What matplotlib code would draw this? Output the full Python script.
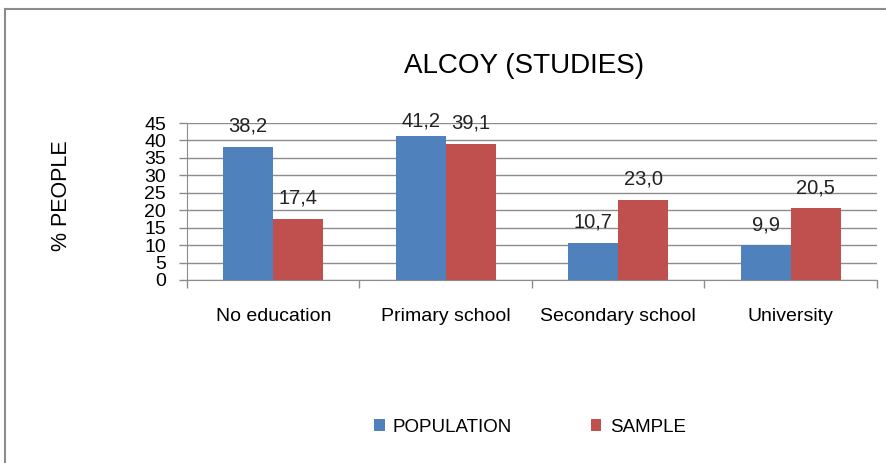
import numpy as np
import matplotlib.pyplot as plt
from matplotlib.lines import Line2D

categories = ["No education", "Primary school", "Secondary school", "University"]
population = [38.2, 41.2, 10.7, 9.9]
sample = [17.4, 39.1, 23.0, 20.5]
series_names = ["POPULATION", "SAMPLE"]

blue = "#4F81BD"
red = "#C0504D"
grid_col = "#8C8C8C"

plt.rcParams['font.family'] = ['Liberation Sans', 'DejaVu Sans']

fig = plt.figure(figsize=(8.87, 4.63), dpi=100)
ax = fig.add_axes([187/887, 1-280/463, 690/887, 157/463])

x = np.arange(len(categories))
w = 0.29
b1 = ax.bar(x - w/2, population, w, color=blue, label=series_names[0])
b2 = ax.bar(x + w/2, sample, w, color=red, label=series_names[1])

# labels above bars, kept near the top of the plot area like Excel does
for bars, vals in [(b1, population), (b2, sample)]:
    for r, v in zip(bars, vals):
        ax.text(r.get_x() + r.get_width()/2, min(v + 6.0, 45.5), ("%.1f" % v).replace(".", ","),
                ha="center", va="center", fontsize=14.5, color="#222222")

ax.set_xlim(-0.5, len(categories) - 0.5)
ax.set_ylim(0, 45)
ax.set_yticks(np.arange(0, 46, 5))
ax.yaxis.grid(True, color=grid_col, linewidth=1)
ax.set_axisbelow(True)
ax.tick_params(axis="y", length=6, width=1, color=grid_col, pad=9, labelsize=14)

ax.set_xticks(x)
ax.set_xticklabels(categories, fontsize=14)
ax.set_xticks(np.arange(-0.5, len(categories)), minor=True)
ax.tick_params(axis="x", which="major", length=0, pad=20)
ax.tick_params(axis="x", which="minor", length=6, width=1, color=grid_col)

for s in ["top", "right"]:
    ax.spines[s].set_visible(False)
for s in ["left", "bottom"]:
    ax.spines[s].set_color(grid_col)

fig.text(524/887, 1-66/463, "ALCOY (STUDIES)", ha="center", va="center", fontsize=20)
fig.text(62/887, 1-196/463, "% PEOPLE", ha="center", va="center", rotation=90, fontsize=15.5)

fig.legend(handles=[b1, b2], loc="center", bbox_to_anchor=(530/887, 1-427/463),
           ncol=2, frameon=False, fontsize=13.5, handlelength=0.55, handleheight=0.55,
           columnspacing=4.2, handletextpad=0.45)

# outer chart frame: only top and left edges visible
fig.lines.append(Line2D([5/887, 1], [1-9/463, 1-9/463], transform=fig.transFigure,
                        color="#8C8C8C", linewidth=1.5))
fig.lines.append(Line2D([5/887, 5/887], [0, 1-9/463], transform=fig.transFigure,
                        color="#8C8C8C", linewidth=1.5))

fig.savefig("out.png", dpi=100)
